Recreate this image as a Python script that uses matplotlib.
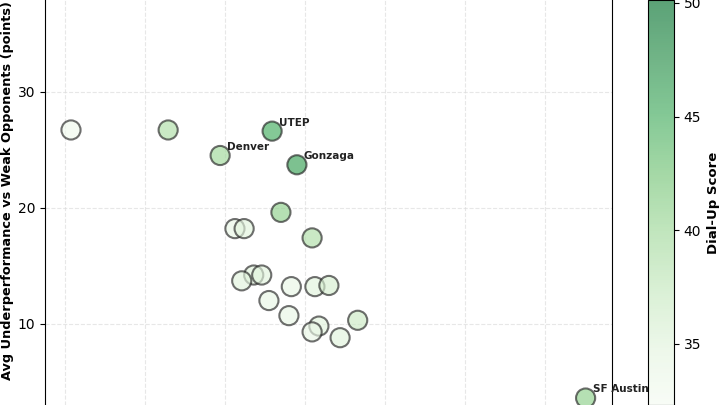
import matplotlib
matplotlib.use("Agg")
import matplotlib.pyplot as plt
import numpy as np
from matplotlib.colors import Normalize

# x in grid-step units (grid lines at whole numbers)
x = [0.075, 1.29, 1.94, 2.59, 2.9, 2.7, 2.125, 2.24, 3.09, 2.36, 2.46, 2.21,
     2.83, 3.125, 3.3, 2.55, 2.8, 3.175, 3.09, 3.44, 3.66, 6.51]
y = [26.7, 26.7, 24.5, 26.6, 23.7, 19.6, 18.2, 18.2, 17.4, 14.2, 14.2, 13.7,
     13.2, 13.2, 13.3, 12.0, 10.7, 9.8, 9.3, 8.8, 10.3, 3.6]
score = [33, 39, 40, 45, 46, 41, 34, 35, 39, 35, 35, 35,
         34, 35, 36, 34, 34, 35, 34, 35, 37, 41]
labels = {2: "Denver", 3: "UTEP", 4: "Gonzaga", 21: "SF Austin"}

fig = plt.figure(figsize=(7.2, 4.05), dpi=100)
ax = fig.add_axes([45/720, 0, (612-45)/720, 1])
norm = Normalize(vmin=32, vmax=53)
sc = ax.scatter(x, y, c=score, cmap="Greens", norm=norm, s=190, alpha=0.65,
                edgecolors="#222222", linewidths=1.5, zorder=3)
for i, name in labels.items():
    ax.annotate(name, (x[i], y[i]), xytext=(5, 4), textcoords="offset points",
                fontsize=7.5, fontweight="bold", color="#222222")
ax.set_xlim(-0.25, 6.84)
ax.set_ylim(3.0, 37.9)
ax.set_xticks(np.arange(0, 7))
ax.set_xticklabels([])
ax.tick_params(axis="x", length=0)
ax.set_yticks([10, 20, 30])
ax.grid(True, linestyle="--", color="#dddddd", alpha=0.7)
ax.spines["top"].set_visible(False)
ax.spines["bottom"].set_visible(False)
ax.set_ylabel("Avg Underperformance vs Weak Opponents (points)", fontsize=9.3,
              fontweight="bold")
ax.yaxis.set_label_coords(-0.055, 0.53)

cax = fig.add_axes([648/720, 0, 26/720, 1])
cbar = fig.colorbar(sc, cax=cax)
cbar.solids.set_alpha(0.65)
cax.set_ylim(32.3, 50.13)
cbar.set_ticks([35, 40, 45, 50])
cbar.set_label("Dial-Up Score", fontsize=9.5, fontweight="bold")

fig.savefig("out.png", dpi=100)
